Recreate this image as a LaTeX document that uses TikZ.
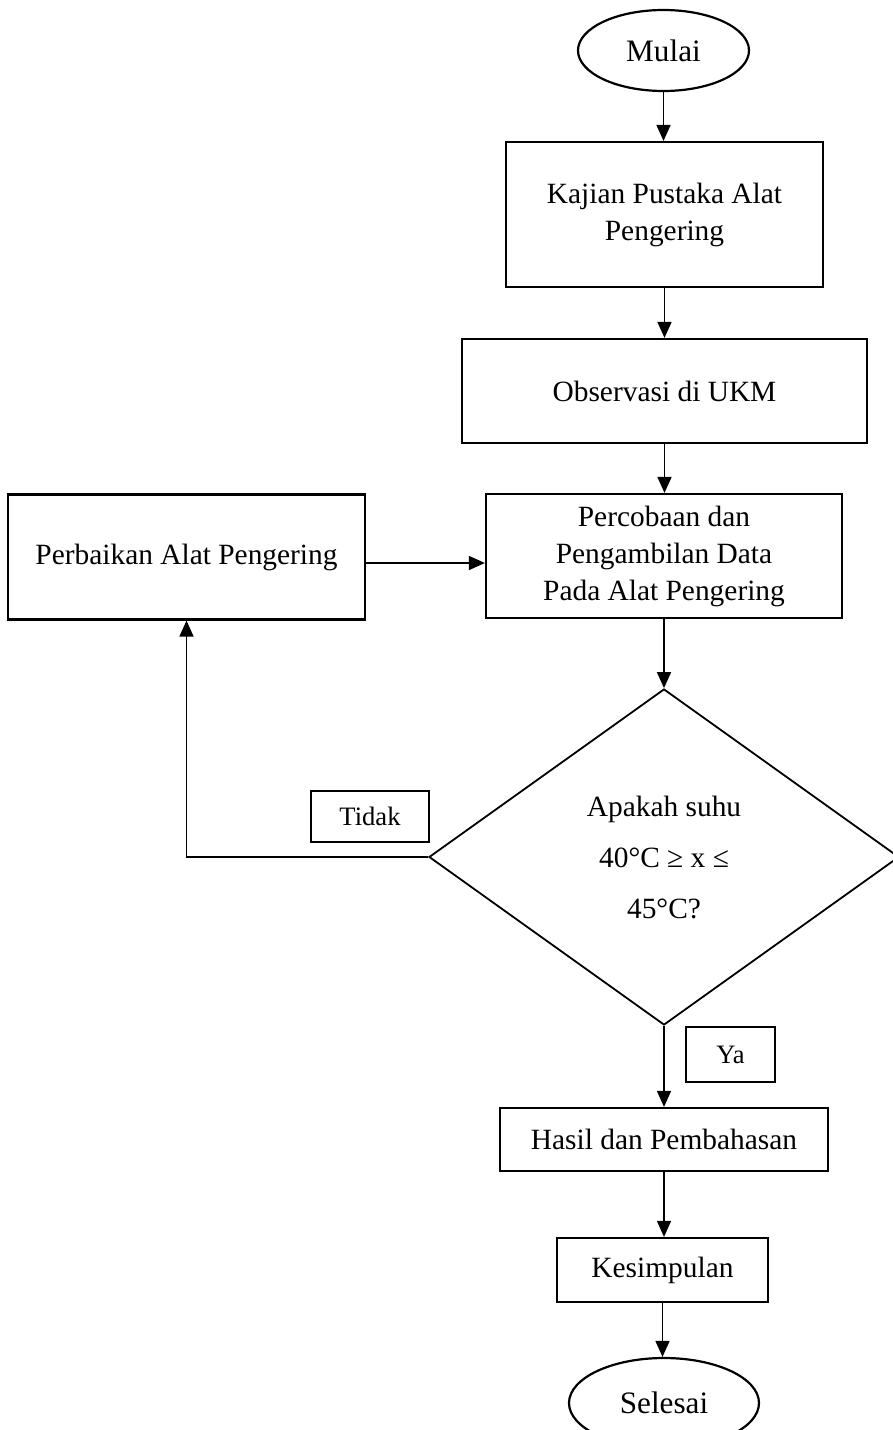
\documentclass[tikz,border=0pt]{standalone}
\usepackage{fontspec}
\setmainfont{Liberation Serif}
\usetikzlibrary{shapes.geometric, arrows.meta}

\begin{document}
\begin{tikzpicture}[x=0.5pt, y=-0.5pt, font=\fontsize{14.7}{18.5}\selectfont]

\tikzset{terminal/.style = {shape=ellipse, draw, line width=1.1pt, inner sep=0pt, font=\fontsize{15.6}{18.5}\selectfont}}
\tikzset{process/.style = {shape=rectangle, draw, line width=1.1pt, align=center, inner sep=0pt}}
\tikzset{decision/.style = {shape=diamond, draw, line width=0.9pt, align=center, inner sep=0pt, font=\fontsize{14.7}{25.5}\selectfont}}
\tikzset{tag/.style = {shape=rectangle, draw, line width=1pt, inner sep=0pt, font=\fontsize{13.3}{15}\selectfont}}
\tikzset{edge/.style = {-{Triangle[width=7pt,length=8pt]}, line width=0.8pt}}

\useasboundingbox (0,0) rectangle (893,1430);
%nodes
\node[terminal, minimum width=85.5pt, minimum height=40.5pt] (mulai) at (663.5,50.5) {Mulai};
\node[process, minimum width=158.5pt, minimum height=72.5pt] (kajian) at (664.5,214.5) {Kajian Pustaka Alat\\Pengering};
\node[process, minimum width=202.5pt, minimum height=52pt] (observasi) at (664.5,391) {Observasi di UKM};
\node[process, minimum width=178pt, minimum height=62pt] (percobaan) at (664,556) {Percobaan dan\\Pengambilan Data\\Pada Alat Pengering};
\node[process, minimum width=178.5pt, minimum height=62.5pt] (perbaikan) at (186.5,557) {Perbaikan Alat Pengering};
\node[decision, minimum width=235pt, minimum height=168pt] (cek) at (664,857) {Apakah suhu\\40°C ≥ x ≤\\45°C?};
\node[tag, minimum width=59pt, minimum height=25.5pt] (tidak) at (370,816.5) {Tidak};
\node[tag, minimum width=44.5pt, minimum height=27.5pt] (ya) at (730.5,1054.5) {Ya};
\node[process, minimum width=164pt, minimum height=31.5pt] (hasil) at (664,1139.5) {Hasil dan Pembahasan};
\node[process, minimum width=105.5pt, minimum height=32pt] (kesimpulan) at (662.5,1270) {Kesimpulan};
\node[terminal, minimum width=95pt, minimum height=45pt] (selesai) at (664,1403) {Selesai};
%edges
\draw [edge] (mulai.south) -- (mulai.south |- kajian.north);
\draw [edge] (kajian.south) -- (kajian.south |- observasi.north);
\draw [edge] (observasi.south) -- (observasi.south |- percobaan.north);
\draw [edge] ([yshift=-3pt]perbaikan.east) -- ([yshift=-3pt]perbaikan.east -| percobaan.west);
\draw [edge] (percobaan.south) -- (cek.north);
\draw [edge] (cek.west) -- (cek.west -| perbaikan.south) -- (perbaikan.south);
\draw [edge] (cek.south) -- (cek.south |- hasil.north);
\draw [edge] (hasil.south) -- (hasil.south |- kesimpulan.north);
\draw [edge] (kesimpulan.south) -- (kesimpulan.south |- selesai.north);

\end{tikzpicture}
\end{document}
